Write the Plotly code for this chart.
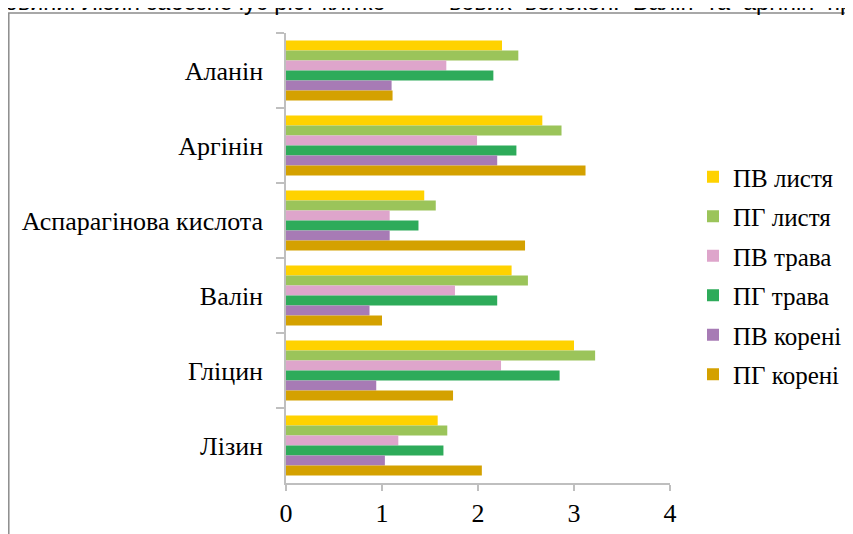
import plotly.graph_objects as go

categories = ["Аланін", "Аргінін", "Аспарагінова кислота", "Валін", "Гліцин", "Лізин"]
series_names = ["ПВ листя", "ПГ листя", "ПВ трава", "ПГ трава", "ПВ корені", "ПГ корені"]
pv_lystia = [2.25, 2.67, 1.44, 2.35, 3.00, 1.58]
pg_lystia = [2.42, 2.87, 1.56, 2.52, 3.22, 1.68]
pv_trava = [1.67, 1.99, 1.08, 1.76, 2.24, 1.17]
pg_trava = [2.16, 2.40, 1.38, 2.20, 2.85, 1.64]
pv_koreni = [1.10, 2.20, 1.08, 0.87, 0.94, 1.03]
pg_koreni = [1.11, 3.12, 2.49, 1.00, 1.74, 2.04]
x_ticks = [0, 1, 2, 3, 4]
colors = ["#FFD200", "#9BC45A", "#DEA5CB", "#2EAB5A", "#A77BB5", "#D4A100"]
top_text_left = "ювини. Лізин забезпечує ріст клітко"
top_text_right = "вових волокон. Валін та аргінін пр"

values = [pv_lystia, pg_lystia, pv_trava, pg_trava, pv_koreni, pg_koreni]

SERIF = "Liberation Serif, Times New Roman, Times, DejaVu Serif, serif"
SANS = "Liberation Sans, Arial, DejaVu Sans, sans-serif"

OFF = 8  # page body offset
W, H = 853, 534
L, R, T, B = 286 - OFF, 670 - OFF, 33 - OFF, 483 - OFF

fig = go.Figure()
for i, (name, vals) in enumerate(zip(series_names, values)):
    fig.add_trace(go.Bar(
        y=categories, x=vals, name=name, orientation="h",
        marker=dict(color=colors[i], line=dict(width=0)),
        legendgroup=name,
    ))

def px_x(p):
    return (p - OFF - L) / (R - L)

def px_y(p):
    return (B - (p - OFF)) / (B - T)

def cx(p):
    return (p - OFF) / W

def cy(p):
    return 1 - (p - OFF) / H

# justified-looking word spacing for the cropped document line
right_text = " \u00a0".join(top_text_right.split(" "))

fig.update_layout(
    width=W, height=H,
    margin=dict(l=L, r=W - R, t=T, b=H - B, pad=0, autoexpand=False),
    paper_bgcolor="white", plot_bgcolor="white",
    barmode="group", bargap=0.2, bargroupgap=0,
    font=dict(family=SERIF, color="#000000", size=22),
    showlegend=True,
    legend=dict(
        xref="container", yref="container",
        x=cx(693), y=cy(154), xanchor="left", yanchor="top",
        font=dict(family=SERIF, size=25, color="#000000"),
        tracegroupgap=4, itemwidth=30,
        bgcolor="rgba(0,0,0,0)",
    ),
    xaxis=dict(
        range=[0, 4], tickvals=x_ticks, ticktext=[str(v) for v in x_ticks],
        showgrid=False, zeroline=False, showline=True, linecolor="#BFBFBF", linewidth=1.5,
        ticks="outside", ticklen=6, tickcolor="#BFBFBF", tickwidth=1.5,
        tickfont=dict(family=SERIF, size=26, color="#000000"),
        fixedrange=True,
    ),
    yaxis=dict(
        type="category", autorange="reversed",
        showgrid=False, zeroline=False, showline=True, linecolor="#BFBFBF", linewidth=1.5,
        ticks="outside", ticklen=8, tickcolor="#BFBFBF", tickwidth=1.5, tickson="boundaries",
        tickfont=dict(family=SERIF, size=26, color="#000000"),
        ticklabelstandoff=16,
    ),
    shapes=[dict(
        type="rect", xref="paper", yref="paper",
        x0=px_x(8.8), x1=px_x(W + 40), y0=px_y(H + 40), y1=px_y(13),
        line=dict(color="#8C8C8C", width=1.5), fillcolor="rgba(0,0,0,0)", layer="below",
    )],
    annotations=[
        dict(text=top_text_left, xref="paper", yref="paper",
             x=px_x(-2), y=px_y(17), xanchor="left", yanchor="bottom",
             showarrow=False, font=dict(family=SANS, size=23.5, color="#000000")),
        dict(text=right_text, xref="paper", yref="paper",
             x=px_x(447), y=px_y(17), xanchor="left", yanchor="bottom",
             showarrow=False, font=dict(family=SANS, size=23.5, color="#000000")),
    ],
)

fig.write_html("out.html")
